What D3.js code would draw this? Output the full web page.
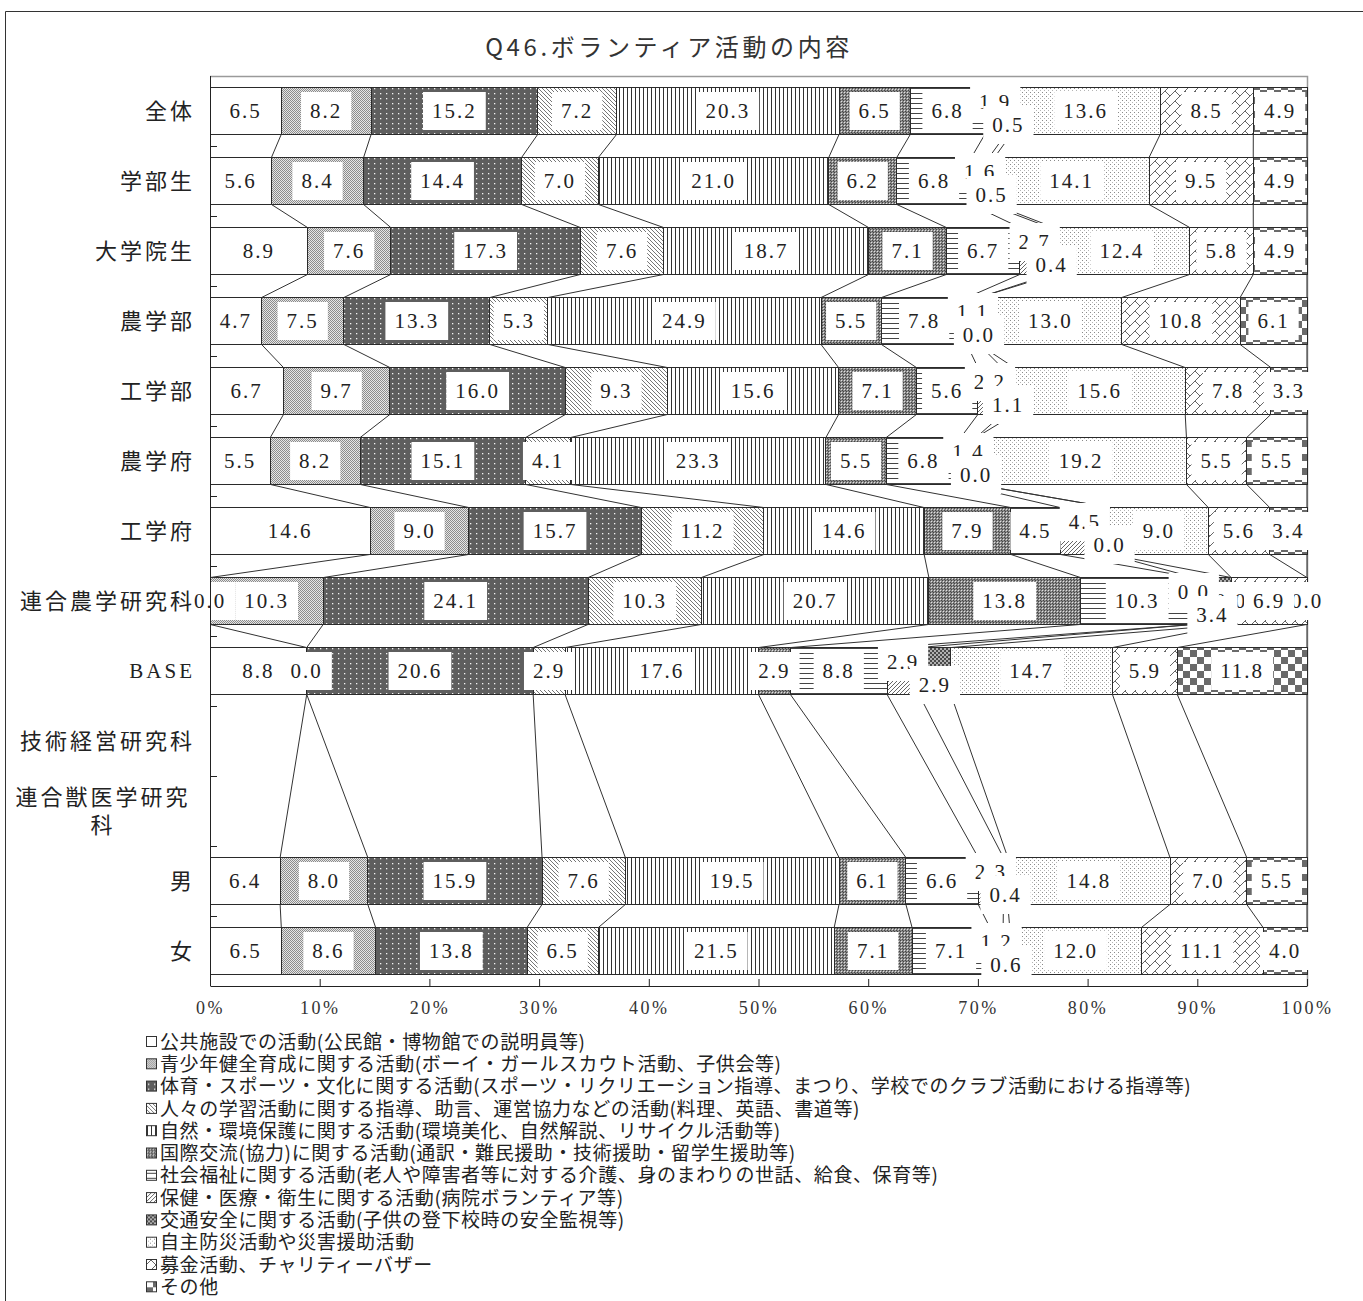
<!DOCTYPE html>
<html>
<head>
<meta charset="utf-8">
<script src="https://cdn.jsdelivr.net/npm/d3@7"></script>
<style>
  body { margin: 0; background: #fff; }
</style>
</head>
<body>
<div id="wrapper"></div>
<script>
/*global d3*/

const chartTitle = "Q46.ボランティア活動の内容"

const categories = [
    "全体", "学部生", "大学院生", "農学部", "工学部", "農学府", "工学府",
    "連合農学研究科", "BASE", "技術経営研究科", "連合獣医学研究科", "男", "女"
]

const seriesNames = [
    "公共施設での活動(公民館・博物館での説明員等)",
    "青少年健全育成に関する活動(ボーイ・ガールスカウト活動、子供会等)",
    "体育・スポーツ・文化に関する活動(スポーツ・リクリエーション指導、まつり、学校でのクラブ活動における指導等)",
    "人々の学習活動に関する指導、助言、運営協力などの活動(料理、英語、書道等)",
    "自然・環境保護に関する活動(環境美化、自然解説、リサイクル活動等)",
    "国際交流(協力)に関する活動(通訳・難民援助・技術援助・留学生援助等)",
    "社会福祉に関する活動(老人や障害者等に対する介護、身のまわりの世話、給食、保育等)",
    "保健・医療・衛生に関する活動(病院ボランティア等)",
    "交通安全に関する活動(子供の登下校時の安全監視等)",
    "自主防災活動や災害援助活動",
    "募金活動、チャリティーバザー",
    "その他"
]

// one array per series, one value per category (null = no answers)
const publicFacility = [6.5, 5.6, 8.9, 4.7, 6.7, 5.5, 14.6, 0.0, 8.8, null, null, 6.4, 6.5]
const youthDevelopment = [8.2, 8.4, 7.6, 7.5, 9.7, 8.2, 9.0, 10.3, 0.0, null, null, 8.0, 8.6]
const sportsCulture = [15.2, 14.4, 17.3, 13.3, 16.0, 15.1, 15.7, 24.1, 20.6, null, null, 15.9, 13.8]
const learningSupport = [7.2, 7.0, 7.6, 5.3, 9.3, 4.1, 11.2, 10.3, 2.9, null, null, 7.6, 6.5]
const nature = [20.3, 21.0, 18.7, 24.9, 15.6, 23.3, 14.6, 20.7, 17.6, null, null, 19.5, 21.5]
const international = [6.5, 6.2, 7.1, 5.5, 7.1, 5.5, 7.9, 13.8, 2.9, null, null, 6.1, 7.1]
const welfare = [6.8, 6.8, 6.7, 7.8, 5.6, 6.8, 4.5, 10.3, 8.8, null, null, 6.6, 7.1]
const health = [1.9, 1.6, 2.7, 1.1, 2.2, 1.4, 4.5, 0.0, 2.9, null, null, 2.3, 1.2]
const traffic = [0.5, 0.5, 0.4, 0.0, 1.1, 0.0, 0.0, 3.4, 2.9, null, null, 0.4, 0.6]
const disaster = [13.6, 14.1, 12.4, 13.0, 15.6, 19.2, 9.0, 0.0, 14.7, null, null, 14.8, 12.0]
const fundraising = [8.5, 9.5, 5.8, 10.8, 7.8, 5.5, 5.6, 6.9, 5.9, null, null, 7.0, 11.1]
const other = [4.9, 4.9, 4.9, 6.1, 3.3, 5.5, 3.4, 0.0, 11.8, null, null, 5.5, 4.0]

const xTickValues = [0, 0.1, 0.2, 0.3, 0.4, 0.5, 0.6, 0.7, 0.8, 0.9, 1]

const seriesValues = [
    publicFacility, youthDevelopment, sportsCulture, learningSupport,
    nature, international, welfare, health, traffic, disaster, fundraising, other
]

function drawChart() {

    const dims = {
        width: 1363,
        height: 1301,
        margin: { top: 76, left: 210 },
    }
    dims.boundedWidth = 1097
    dims.boundedHeight = 910

    const numFont = "'Liberation Serif', 'DejaVu Serif', serif"
    const jpFont = "'Noto Sans CJK JP', 'Noto Sans', sans-serif"

    // build table for the stack
    const keys = seriesValues.map((s, i) => i)
    const table = categories.map((c, j) => {
        const row = { category: c, empty: seriesValues.every(s => s[j] == null) }
        keys.forEach(k => row[k] = seriesValues[k][j] || 0)
        return row
    })

    const stack = d3.stack()
        .keys(keys)
        .offset(d3.stackOffsetExpand)
    const stacked = stack(table)

    const svg = d3.select("#wrapper")
        .append("svg")
        .attr("width", dims.width)
        .attr("height", dims.height)
        .style("display", "block")

    // patterns ------------------------------------------------------------
    const defs = svg.append("defs")
    const pattern = (id, w, h, bg, draw) => {
        const p = defs.append("pattern")
            .attr("id", id)
            .attr("patternUnits", "userSpaceOnUse")
            .attr("width", w)
            .attr("height", h)
        p.append("rect").attr("width", w).attr("height", h).attr("fill", bg)
        draw(p)
    }
    const px = (p, x, y, c, s = 1) => p.append("rect")
        .attr("x", x).attr("y", y).attr("width", s).attr("height", s).attr("fill", c)
    const stroke = (p, d, c = "#444", w = 1) => p.append("path")
        .attr("d", d).attr("stroke", c).attr("stroke-width", w).attr("fill", "none")

    pattern("p0", 4, 4, "#fff", () => {})
    pattern("p1", 2, 2, "#e6e6e6", p => { px(p, 0, 0, "#8c8c8c"); px(p, 1, 1, "#8c8c8c") })
    pattern("p2", 6, 5, "#5e5e5e", p => px(p, 2, 2, "#f4f4f4", 1.3))
    pattern("p3", 4, 4, "#fff", p => stroke(p, "M-1,-1L5,5M-1,3L1,5M3,-1L5,1", "#666", 0.9))
    pattern("p4", 4, 4, "#fff", p => stroke(p, "M1.5,0V4", "#333", 1))
    pattern("p5", 3, 3, "#8a8a8a", p => { px(p, 0, 0, "#444"); px(p, 1, 1, "#e2e2e2"); px(p, 2, 2, "#444") })
    pattern("p6", 5, 5, "#fff", p => stroke(p, "M0,2.5H5", "#444", 1))
    pattern("p7", 4, 4, "#fff", p => stroke(p, "M-1,5L5,-1M-1,1L1,-1M3,5L5,3", "#555", 0.9))
    pattern("p8", 4, 4, "#b0b0b0", p => { px(p, 0, 0, "#4a4a4a", 2); px(p, 2, 2, "#4a4a4a", 2) })
    pattern("p9", 4, 4, "#fff", p => { px(p, 0, 0, "#8a8a8a"); px(p, 2, 2, "#b5b5b5") })
    pattern("p10", 10, 10, "#fff", p => stroke(p, "M0,10L10,0M5,5L10,10M0,5L-5,0", "#555", 0.9))
    pattern("p11", 14, 14, "#fff", p => { px(p, 0, 0, "#6a6a6a", 7); px(p, 7, 7, "#6a6a6a", 7) })

    const fillFor = k => `url(#p${k})`

    // outer frame ---------------------------------------------------------
    svg.append("path")
        .attr("d", "M5.5,1301V11.5H1363")
        .attr("fill", "none")
        .attr("stroke", "#333")

    svg.append("text")
        .text(chartTitle)
        .attr("x", 669)
        .attr("y", 48)
        .attr("dy", "0.35em")
        .style("text-anchor", "middle")
        .style("font-family", jpFont)
        .style("font-size", "24px")
        .style("letter-spacing", "3.6px")
        .attr("fill", "#333")

    const bounds = svg.append("g")
        .attr("transform", `translate(${dims.margin.left}, ${dims.margin.top})`)

    // scales ------------------------------------------------------------
    const xScale = d3.scaleLinear()
        .domain([0, 1])
        .range([0, dims.boundedWidth])

    const yScale = d3.scaleBand()
        .domain(categories)
        .range([0, dims.boundedHeight])
        .paddingInner(0.33)
        .paddingOuter(0.165)

    const step = yScale.step()
    const bw = yScale.bandwidth()

    // plot area border (top & right, grey)
    bounds.append("path")
        .attr("d", `M0,0.5H${dims.boundedWidth + 0.5}V${dims.boundedHeight}`)
        .attr("fill", "none")
        .attr("stroke", "#9a9a9a")
        .attr("stroke-width", 1.5)

    // bars ----------------------------------------------------------------
    const barsGroup = bounds.append("g")
        .attr("shape-rendering", "crispEdges")

    stacked.forEach(s => {
        barsGroup.append("g")
            .selectAll("rect")
            .data(s.filter(d => !d.data.empty && d[1] > d[0]))
            .join("rect")
            .attr("x", d => xScale(d[0]))
            .attr("y", d => yScale(d.data.category))
            .attr("width", d => xScale(d[1]) - xScale(d[0]))
            .attr("height", bw)
            .attr("fill", fillFor(s.key))
            .attr("stroke", "#2a2a2a")
            .attr("stroke-width", 1)
    })

    // series lines between consecutive non-empty bars
    const seriesLines = []
    stacked.forEach(s => {
        const rows = s.filter(d => !d.data.empty)
        for (let i = 0; i < rows.length - 1; i++) {
            seriesLines.push({
                x1: xScale(rows[i][1]),
                y1: yScale(rows[i].data.category) + bw,
                x2: xScale(rows[i + 1][1]),
                y2: yScale(rows[i + 1].data.category),
            })
        }
    })
    bounds.append("g")
        .selectAll("line")
        .data(seriesLines)
        .join("line")
        .attr("x1", d => d.x1)
        .attr("y1", d => d.y1)
        .attr("x2", d => d.x2)
        .attr("y2", d => d.y2)
        .attr("stroke", "#333")
        .attr("stroke-width", 1)

    // value axis ----------------------------------------------------------
    const xAxisGenerator = d3.axisBottom(xScale)
        .tickValues(xTickValues)
        .tickFormat(d3.format(".0%"))
        .tickSizeInner(-7)
        .tickSizeOuter(0)
        .tickPadding(15)

    const xAxis = bounds.append("g")
        .attr("transform", `translate(0, ${dims.boundedHeight})`)
        .call(xAxisGenerator)
    xAxis.select(".domain").attr("stroke", "#222")
    xAxis.selectAll(".tick line").attr("stroke", "#222")
    xAxis.selectAll(".tick text")
        .attr("fill", "#333")
        .style("font-family", numFont)
        .style("font-size", "18px")
        .style("letter-spacing", "2.5px")

    // data labels ---------------------------------------------------------
    // small 保健 / 交通安全 labels sit above / below the bar centre;
    // centred zero labels go underneath the others
    const labelShift = { 7: -9, 8: 14 }
    const labelData = []
    stacked.forEach(s => {
        s.filter(d => !d.data.empty).forEach(d => {
            const j = categories.indexOf(d.data.category)
            labelData.push({ k: s.key, d, value: seriesValues[s.key][j] })
        })
    })
    const underneath = l => l.value === 0 && !labelShift[l.k]
    const ordered = labelData.filter(underneath)
        .concat(labelData.filter(l => !underneath(l)))

    const labelsGroup = bounds.append("g")
    ordered.forEach(({ k, d, value }) => {
        const cx = xScale((d[0] + d[1]) / 2)
        const cy = yScale(d.data.category) + bw / 2 + (labelShift[k] || 0)
        const g = labelsGroup.append("g")
        const box = g.append("rect").attr("fill", "#fff")
        const txt = g.append("text")
            .attr("x", cx)
            .attr("y", cy)
            .attr("dy", "0.35em")
            .style("text-anchor", "middle")
            .style("font-family", numFont)
            .style("font-size", "21px")
            .style("letter-spacing", "2px")
            .attr("fill", "#222")
            .text(d3.format(".1f")(value))
        const tw = txt.node().getComputedTextLength()
        box.attr("x", cx - tw / 2 - 9)
            .attr("y", cy - 19)
            .attr("width", tw + 18)
            .attr("height", 38)
    })

    // category axis (drawn last so names stay readable) -------------------
    const yAxis = bounds.append("g")
    yAxis.append("line")
        .attr("x1", 0.5).attr("x2", 0.5)
        .attr("y1", 0).attr("y2", dims.boundedHeight)
        .attr("stroke", "#222")
    yAxis.selectAll(".tick")
        .data(d3.range(1, categories.length))
        .join("line")
        .attr("class", "tick")
        .attr("x1", 0).attr("x2", 7)
        .attr("y1", i => Math.round(i * step) + 0.5)
        .attr("y2", i => Math.round(i * step) + 0.5)
        .attr("stroke", "#222")

    const catLabels = yAxis.selectAll(".cat")
        .data(categories)
        .join("text")
        .attr("class", "cat")
        .attr("fill", "#222")
        .style("font-family", d => d === "BASE" ? numFont : jpFont)
        .style("font-size", d => d === "BASE" ? "21px" : "22px")
        .style("letter-spacing", "3px")

    catLabels.each(function (d) {
        const t = d3.select(this)
        const cy = yScale(d) + bw / 2
        if (d === "連合獣医学研究科") {
            t.style("text-anchor", "middle")
            t.append("tspan").attr("x", -107).attr("y", cy - 14).attr("dy", "0.35em").text(d.slice(0, 7))
            t.append("tspan").attr("x", -107).attr("y", cy + 14).attr("dy", "0.35em").text(d.slice(7))
        } else {
            t.style("text-anchor", "end")
                .attr("x", -15)
                .attr("y", cy)
                .attr("dy", "0.35em")
                .text(d)
        }
    })

    // legend --------------------------------------------------------------
    const legend = svg.append("g")
        .attr("transform", "translate(146, 1042)")
    const items = legend.selectAll("g")
        .data(seriesNames)
        .join("g")
        .attr("transform", (d, i) => `translate(0, ${i * 22.3})`)
    items.append("rect")
        .attr("x", 0.5)
        .attr("y", -5.5)
        .attr("width", 10)
        .attr("height", 10)
        .attr("fill", (d, i) => fillFor(i))
        .attr("stroke", "#333")
    items.append("text")
        .attr("x", 14)
        .attr("dy", "0.35em")
        .text(d => d)
        .attr("fill", "#222")
        .style("font-family", jpFont)
        .style("font-size", "19px")
        .style("letter-spacing", "0.6px")
}

drawChart()
</script>
</body>
</html>
